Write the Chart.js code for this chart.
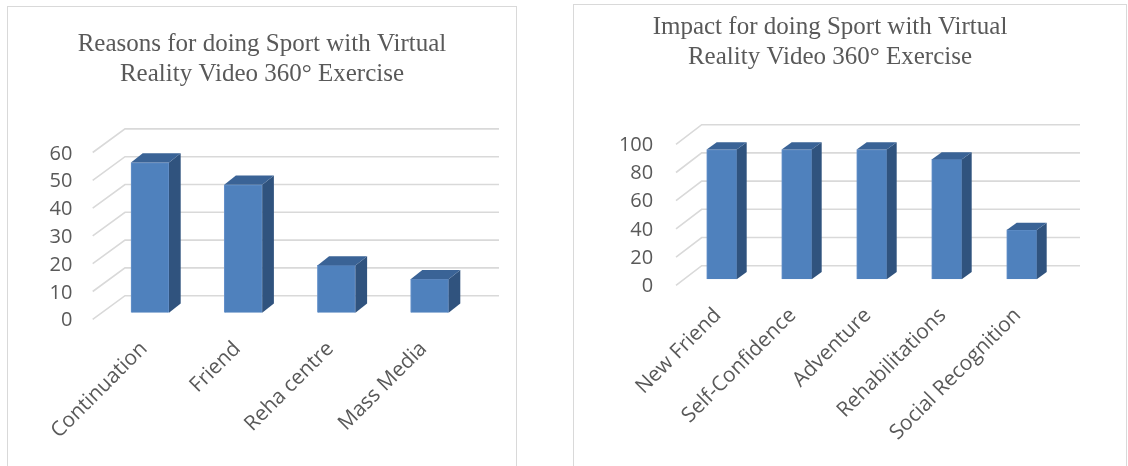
<!DOCTYPE html>
<html>
<head>
<meta charset="utf-8">
<script src="https://cdn.jsdelivr.net/npm/chart.js@4.4.1/dist/chart.umd.min.js"></script>
<style>
  html, body { margin: 0; padding: 0; background: #fff; width: 1128px; height: 466px; overflow: hidden; }
  .frame { position: absolute; border: 1.5px solid #d9d9d9; box-sizing: border-box; }
  canvas { position: absolute; top: 0; }
</style>
</head>
<body>
<div class="frame" style="left:7px;top:6px;width:510px;height:480px"></div>
<div class="frame" style="left:573px;top:4px;width:554px;height:480px"></div>
<canvas id="reasonsChart" width="508" height="466" style="left:8px"></canvas>
<canvas id="impactChart" width="512" height="466" style="left:574px"></canvas>
<script>
// Reasons chart (left)
const reasonLabels = ['Continuation', 'Friend', 'Reha centre', 'Mass Media'];
const reasonValues = [54, 46, 17, 12];
const reasonTicks = [0, 10, 20, 30, 40, 50, 60];

// Impact chart (right)
const impactLabels = ['New Friend', 'Self-Confidence', 'Adventure', 'Rehabilitations', 'Social Recognition'];
const impactValues = [92, 92, 92, 85, 35];
const impactTicks = [0, 20, 40, 60, 80, 100];

const TEXT = '#595959';

// fake 3D: floor/back-wall gridlines before the bars, side + top faces after
const bars3d = {
    id: 'bars3d',
    beforeDatasetsDraw(chart, args, o) {
        const ctx = chart.ctx;
        const y = chart.scales.y;
        ctx.save();
        ctx.strokeStyle = '#d9d9d9';
        ctx.lineWidth = 1.6;
        y.ticks.forEach(t => {
            const py = y.getPixelForValue(t.value);
            ctx.beginPath();
            ctx.moveTo(o.frontX, py + o.frontDy);
            ctx.lineTo(o.backX, py + o.backDy);
            ctx.lineTo(o.backRight, py + o.backDy);
            ctx.stroke();
        });
        ctx.restore();
    },
    afterDatasetsDraw(chart, args, o) {
        const ctx = chart.ctx;
        ctx.save();
        chart.getDatasetMeta(0).data.forEach(bar => {
            const {x, y, base, width} = bar.getProps(['x', 'y', 'base', 'width'], true);
            const l = x - width / 2, r = x + width / 2;
            // side face
            ctx.fillStyle = '#30537e';
            ctx.beginPath();
            ctx.moveTo(r, y);
            ctx.lineTo(r + o.dx, y + o.dy);
            ctx.lineTo(r + o.dx, base + o.dy);
            ctx.lineTo(r, base);
            ctx.closePath();
            ctx.fill();
            // top face
            ctx.fillStyle = '#3a6396';
            ctx.beginPath();
            ctx.moveTo(l, y);
            ctx.lineTo(l + o.dx, y + o.dy);
            ctx.lineTo(r + o.dx, y + o.dy);
            ctx.lineTo(r, y);
            ctx.closePath();
            ctx.fill();
        });
        ctx.restore();
    }
};

function buildChart(id, title, labels, values, ticks, g) {
    return new Chart(document.getElementById(id), {
        type: 'bar',
        data: {
            labels: labels,
            datasets: [{
                data: values,
                backgroundColor: '#4f81bd',
                borderColor: '#6792cb',
                borderWidth: 1,
                barThickness: g.barWidth
            }]
        },
        options: {
            responsive: false,
            animation: false,
            // same padding both sides so the title stays centred in the frame
            layout: { padding: { left: g.pad, top: 0, right: g.pad, bottom: 0 } },
            plugins: {
                legend: { display: false },
                tooltip: { enabled: false },
                title: {
                    display: true,
                    text: title,
                    color: TEXT,
                    font: { family: "'Liberation Serif', 'Times New Roman', serif", size: 25, weight: 'normal', lineHeight: 1.2 },
                    padding: { top: g.titleTop, bottom: g.titleBottom }
                },
                bars3d: g.depth
            },
            scales: {
                x: {
                    grid: { display: false, drawTicks: false },
                    border: { display: false },
                    ticks: {
                        color: TEXT,
                        font: { family: "'Open Sans', sans-serif", size: 20.8 },
                        minRotation: 45, maxRotation: 45,
                        autoSkip: false,
                        padding: 24,
                        labelOffset: g.xLabelOffset
                    },
                    afterFit: s => { s.height = g.xHeight; }
                },
                y: {
                    min: ticks[0],
                    max: ticks[ticks.length - 1],
                    grid: { display: false, drawTicks: false },
                    border: { display: false },
                    ticks: {
                        color: TEXT,
                        font: { family: "'Open Sans', sans-serif", size: 20 },
                        padding: g.yPad,
                        labelOffset: g.yLabelOffset
                    },
                    afterBuildTicks: s => { s.ticks = ticks.map(v => ({ value: v })); },
                    afterFit: s => { s.width = g.yWidth; }
                }
            }
        },
        plugins: [bars3d]
    });
}

buildChart('reasonsChart',
    ['Reasons for doing Sport with Virtual', 'Reality Video 360\u00B0 Exercise'],
    reasonLabels, reasonValues, reasonTicks,
    {
        barWidth: 38, pad: 39.8, titleTop: 29, titleBottom: 56.9,
        xHeight: 153.3, yWidth: 55.6, yPad: 31, yLabelOffset: 8, xLabelOffset: -6,
        depth: { frontX: 84.7, frontDy: 6.6, backX: 117, backDy: -17, backRight: 491, dx: 11.7, dy: -9.3 }
    });

buildChart('impactChart',
    ['Impact for doing Sport with Virtual', 'Reality Video 360\u00B0 Exercise'],
    impactLabels, impactValues, impactTicks,
    {
        barWidth: 30, pad: 26.8, titleTop: 12.5, titleBottom: 65.8,
        xHeight: 186.7, yWidth: 83.4, yPad: 31, yLabelOffset: 7, xLabelOffset: -4,
        depth: { frontX: 102, frontDy: 6, backX: 127.7, backDy: -13.6, backRight: 506, dx: 10, dy: -7.3 }
    });
</script>
</body>
</html>
